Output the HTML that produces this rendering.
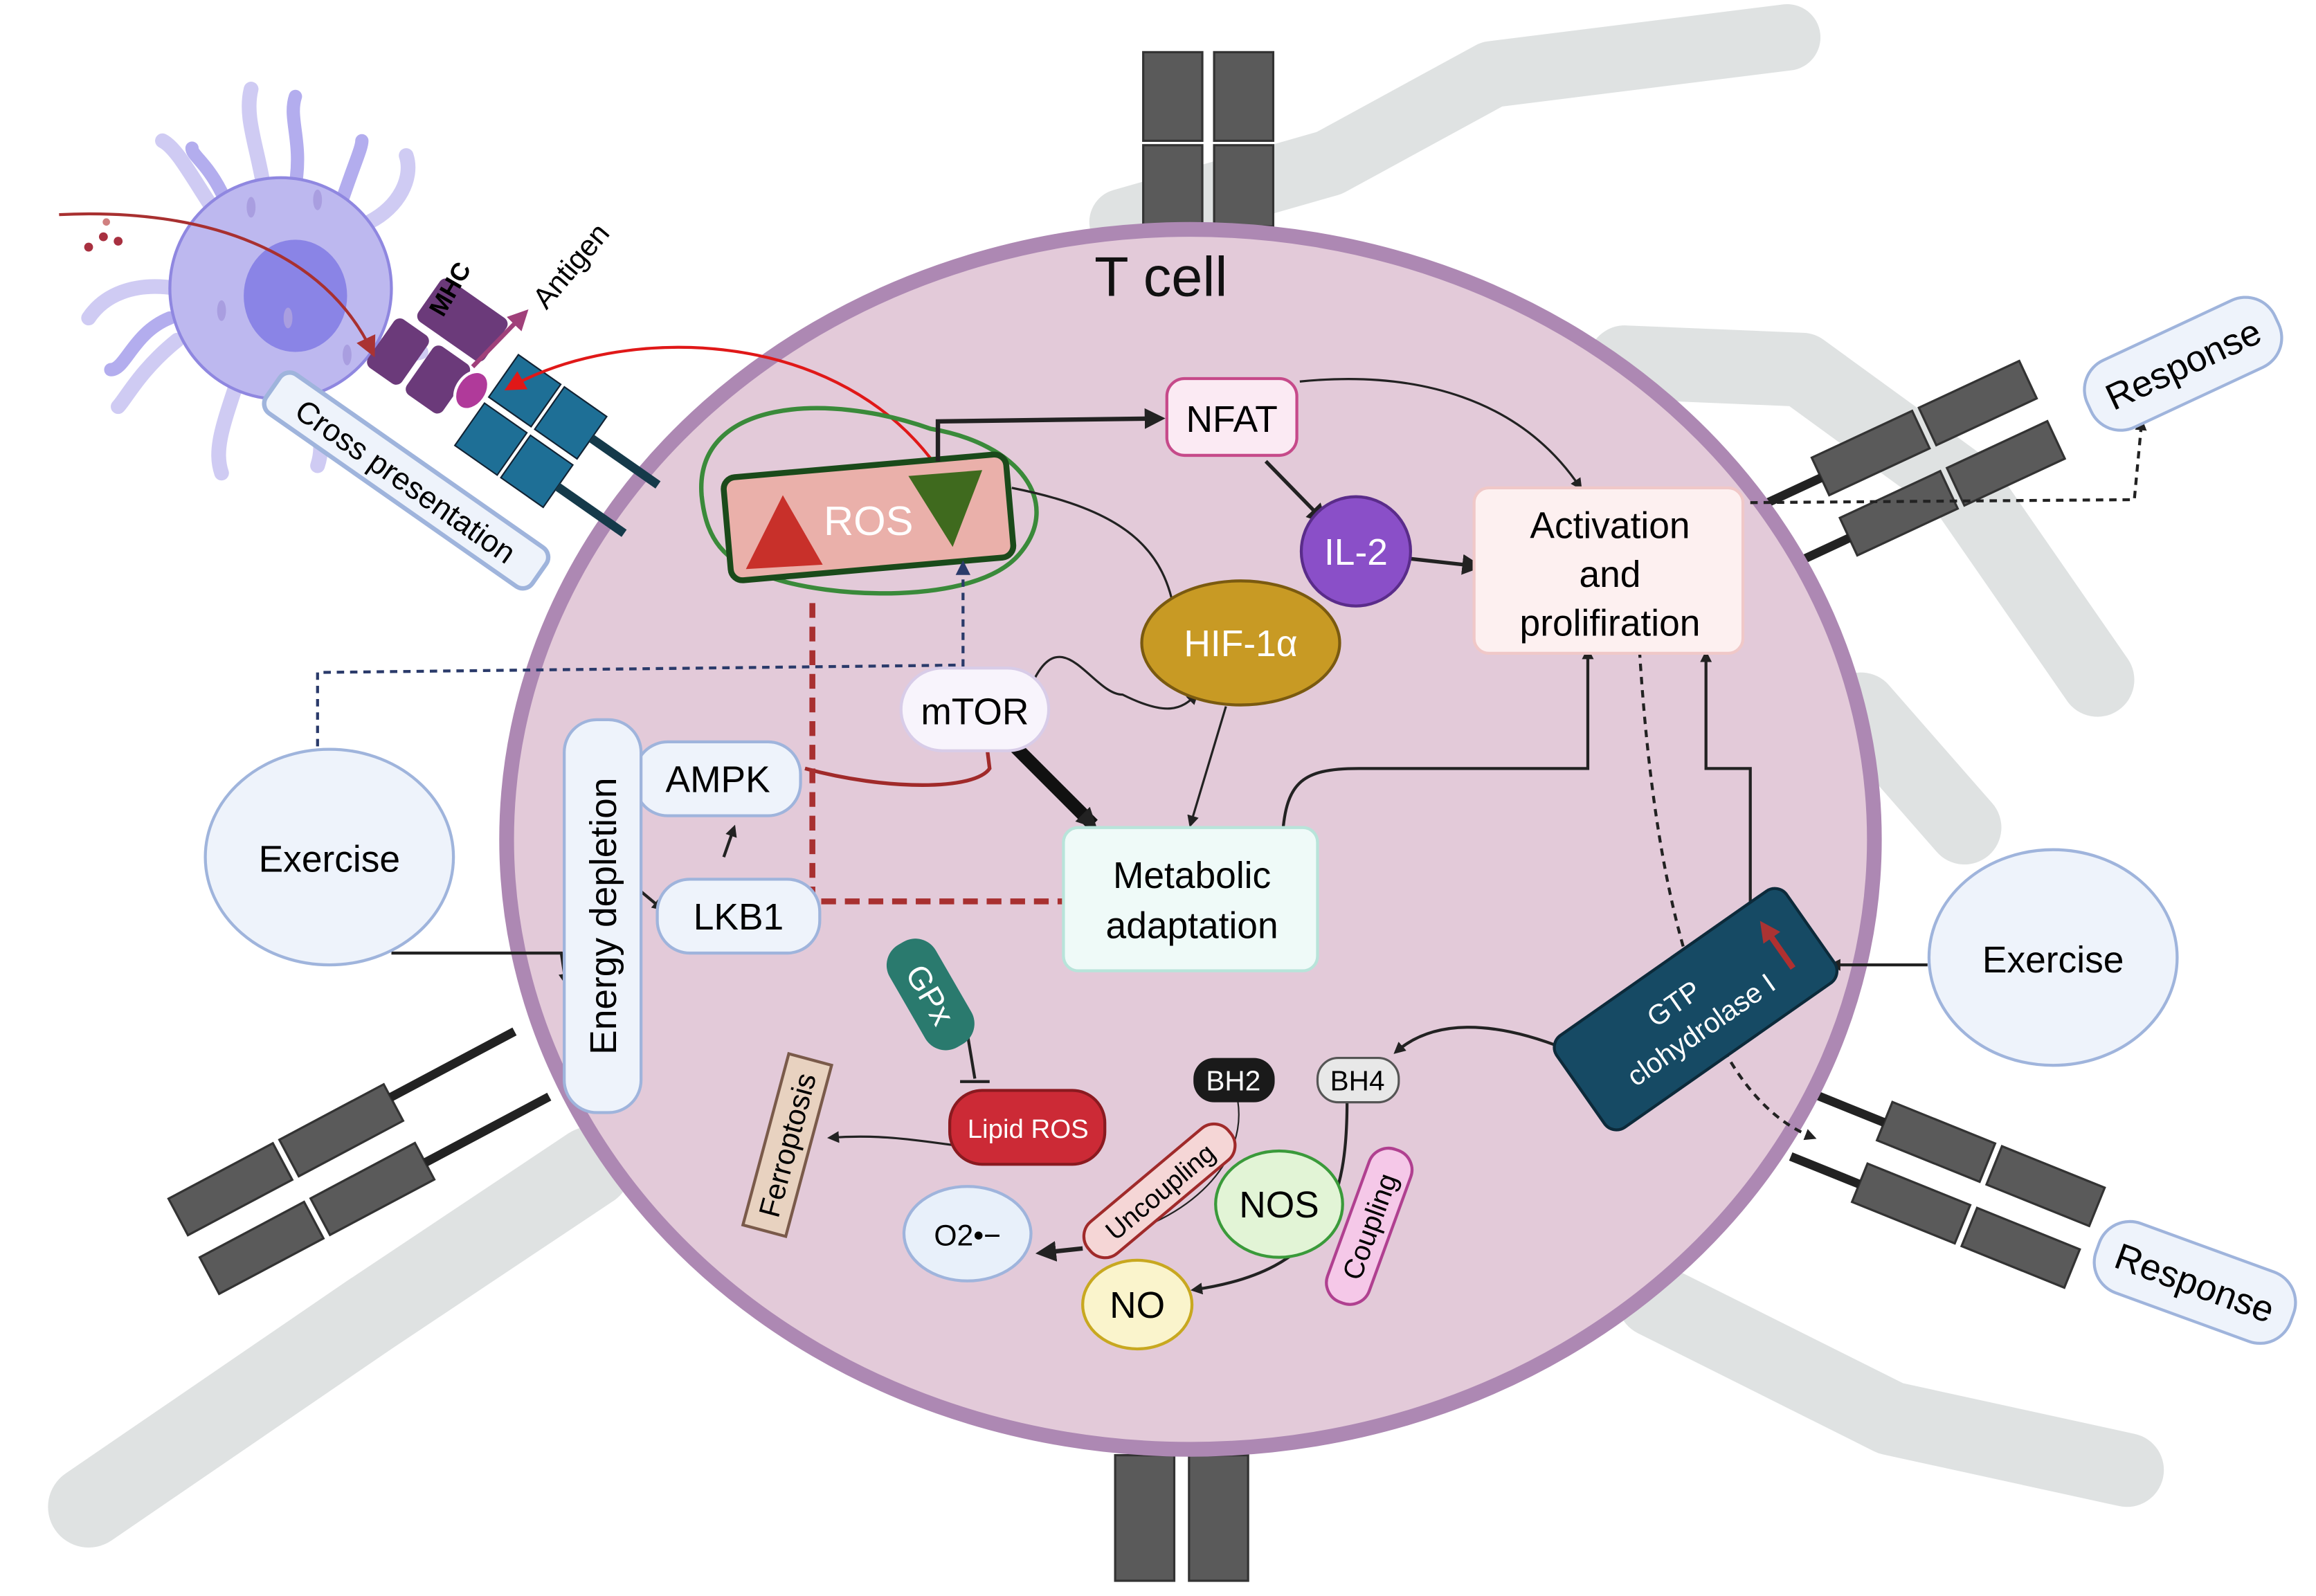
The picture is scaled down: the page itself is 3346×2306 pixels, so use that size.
<!DOCTYPE html>
<html><head><meta charset="utf-8"><style>
html,body{margin:0;padding:0;background:#fff}
svg{display:block}
text{font-family:"Liberation Sans",sans-serif}
</style></head><body>
<svg width="3346" height="2306" viewBox="0 0 1568 1080" xmlns="http://www.w3.org/2000/svg">
<defs>
<marker id="a" markerWidth="8" markerHeight="8" refX="6" refY="4" orient="auto" markerUnits="userSpaceOnUse"><path d="M0,0 L8,4 L0,8 z" fill="#222"/></marker>
<marker id="ab" markerWidth="14" markerHeight="14" refX="10" refY="7" orient="auto" markerUnits="userSpaceOnUse"><path d="M0,0 L14,7 L0,14 z" fill="#222"/></marker>
<marker id="ar" markerWidth="14" markerHeight="14" refX="10" refY="7" orient="auto" markerUnits="userSpaceOnUse"><path d="M0,0 L14,7 L0,14 z" fill="#e01818"/></marker>
<marker id="ad" markerWidth="14" markerHeight="14" refX="10" refY="7" orient="auto" markerUnits="userSpaceOnUse"><path d="M0,0 L14,7 L0,14 z" fill="#a33"/></marker>
<marker id="ap" markerWidth="14" markerHeight="14" refX="10" refY="7" orient="auto" markerUnits="userSpaceOnUse"><path d="M0,0 L14,7 L0,14 z" fill="#a0407a"/></marker>
<marker id="an" markerWidth="10" markerHeight="10" refX="7" refY="5" orient="auto" markerUnits="userSpaceOnUse"><path d="M0,0 L10,5 L0,10 z" fill="#2a3a6a"/></marker>
</defs>
<!-- runner silhouette -->
<g fill="none" stroke="#dfe2e2" stroke-linecap="round" stroke-linejoin="round">
<path d="M760,150 L900,110 L1010,50 L1210,25" stroke-width="45"/>
<path d="M1100,245 L1220,250 L1330,330 L1420,460" stroke-width="50"/>
<path d="M1260,480 L1330,560" stroke-width="50"/>
<path d="M400,790 L250,890 L60,1020" stroke-width="55"/>
<path d="M1120,880 L1280,960 L1440,995" stroke-width="50"/>
</g>
<!-- receptors -->
<g fill="#5a5a5a" stroke="#333" stroke-width="1.5">
<rect x="774" y="35" width="40" height="60"/><rect x="774" y="98" width="40" height="55"/>
<rect x="822" y="35" width="40" height="60"/><rect x="822" y="98" width="40" height="55"/>
<rect x="755" y="985" width="40" height="85"/><rect x="805" y="985" width="40" height="85"/>
<g transform="translate(250,790) rotate(-28)">
<rect x="-130" y="-45" width="80" height="28"/><rect x="-45" y="-45" width="80" height="28"/>
<rect x="-130" y="0" width="80" height="28"/><rect x="-45" y="0" width="80" height="28"/>
<path d="M35,-35 L130,-35 M35,15 L130,15" stroke="#222" stroke-width="6"/></g>
<g transform="translate(1300,325) rotate(-25)">
<rect x="-60" y="-45" width="75" height="28"/><rect x="20" y="-45" width="75" height="28"/>
<rect x="-60" y="0" width="75" height="28"/><rect x="20" y="0" width="75" height="28"/>
<path d="M-60,-30 L-120,-30 M-60,15 L-120,15" stroke="#222" stroke-width="6"/></g>
<g transform="translate(1320,810) rotate(22)">
<rect x="-60" y="-45" width="75" height="28"/><rect x="20" y="-45" width="75" height="28"/>
<rect x="-60" y="0" width="75" height="28"/><rect x="20" y="0" width="75" height="28"/>
<path d="M-60,-30 L-110,-30 M-60,15 L-110,15" stroke="#222" stroke-width="6"/></g>
</g>
<!-- T cell -->
<ellipse cx="806" cy="568" rx="463" ry="413" fill="#e3cad9" stroke="#ad88b3" stroke-width="10"/>
<text x="786" y="200" font-size="38" text-anchor="middle" fill="#111">T cell</text>
<!-- dendritic cell -->
<g fill="none" stroke-linecap="round">
<g stroke="#cfcbf3" stroke-width="10">
<path d="M180,135 C175,100 165,80 170,60"/><path d="M150,150 C130,120 120,100 110,95"/>
<path d="M120,195 C90,190 70,200 60,215"/><path d="M120,230 C95,250 85,270 80,275"/>
<path d="M160,260 C150,290 145,305 150,320"/><path d="M210,265 C215,290 220,300 215,315"/>
<path d="M250,230 C270,240 280,240 285,238"/><path d="M250,150 C270,140 280,120 275,105"/>
</g>
<g stroke="#b3adee" stroke-width="9">
<path d="M200,125 C205,95 195,80 200,65"/><path d="M230,140 C240,110 245,100 245,95"/>
<path d="M115,215 C90,225 85,250 75,250"/><path d="M150,130 C140,110 130,105 130,100"/>
</g>
</g>
<circle cx="190" cy="195" r="75" fill="#bdb8ef" stroke="#8f87e0" stroke-width="2"/>
<ellipse cx="200" cy="200" rx="35" ry="38" fill="#8a84e6"/>
<g fill="#a99ee0"><ellipse cx="170" cy="140" rx="3" ry="7"/><ellipse cx="215" cy="135" rx="3" ry="7"/><ellipse cx="150" cy="210" rx="3" ry="7"/><ellipse cx="235" cy="240" rx="3" ry="7"/><ellipse cx="195" cy="215" rx="3" ry="7"/></g>
<g fill="#a83040"><circle cx="70" cy="160" r="3"/><circle cx="60" cy="167" r="3"/><circle cx="80" cy="163" r="3"/><circle cx="72" cy="150" r="2.5" fill="#d08080"/></g>
<!-- MHC/TCR -->
<g transform="translate(310,260) rotate(35)">
<rect x="-50" y="-55" width="55" height="35" rx="5" fill="#6b3a7a"/>
<rect x="-60" y="-15" width="28" height="40" rx="5" fill="#6b3a7a"/>
<rect x="-28" y="-15" width="30" height="40" rx="5" fill="#6b3a7a"/>
<ellipse cx="10" cy="-2" rx="10" ry="14" fill="#b03a9a" stroke="#fff" stroke-width="2"/>
<rect x="22" y="-40" width="35" height="35" fill="#1e6f96" stroke="#123" stroke-width="1"/>
<rect x="22" y="0" width="35" height="35" fill="#1e6f96" stroke="#123" stroke-width="1"/>
<rect x="60" y="-40" width="35" height="35" fill="#1e6f96" stroke="#123" stroke-width="1"/>
<rect x="60" y="0" width="35" height="35" fill="#1e6f96" stroke="#123" stroke-width="1"/>
<path d="M95,-22 L150,-22 M95,18 L150,18" stroke="#153a4a" stroke-width="6"/>
</g>
<text transform="translate(300,215) rotate(-60)" font-size="17" font-weight="bold">MHC</text>
<text transform="translate(370,210) rotate(-50)" font-size="20">Antigen</text>
<path d="M320,248 L355,212" stroke="#a0407a" stroke-width="3" marker-end="url(#ap)"/>
<path d="M40,145 C140,140 220,170 252,238" fill="none" stroke="#a83030" stroke-width="2" marker-end="url(#ad)"/>
<path d="M630,310 C560,220 420,220 345,262" fill="none" stroke="#e01818" stroke-width="2" marker-end="url(#ar)"/>
<g transform="translate(275,325) rotate(35)"><rect x="-110" y="-16" width="220" height="32" rx="8" fill="#eef3fb" stroke="#9fb4dc" stroke-width="3"/>
<text x="0" y="8" font-size="21" text-anchor="middle">Cross presentation</text></g>
<!-- ROS mitochondria -->
<path d="M475,335 C470,270 560,265 630,290 C690,300 720,340 690,375 C660,410 560,405 520,390 C490,380 478,365 475,335 Z" fill="none" stroke="#3a8a3a" stroke-width="3"/>
<rect x="492" y="315" width="192" height="70" rx="8" fill="#eab0aa" stroke="#1a4a1a" stroke-width="4" transform="rotate(-5 588 350)"/>
<path d="M505,385 L530,335 L557,382 Z" fill="#c8302a"/>
<path d="M615,322 L665,318 L645,370 Z" fill="#3f6a1e"/>
<text x="588" y="362" font-size="28" text-anchor="middle" fill="#fff">ROS</text>
<!-- connectors -->
<path d="M635,312 L635,285 L785,283" fill="none" stroke="#222" stroke-width="3" marker-end="url(#ab)"/>
<path d="M685,330 C760,345 790,370 796,420" fill="none" stroke="#222" stroke-width="1.5" marker-end="url(#a)"/>
<path d="M880,258 C960,250 1030,270 1070,330" fill="none" stroke="#222" stroke-width="1.5" marker-end="url(#a)"/>
<path d="M857,312 L896,352" stroke="#222" stroke-width="2.5" marker-end="url(#ab)"/>
<path d="M955,378 L1000,383" stroke="#222" stroke-width="2.5" marker-end="url(#ab)"/>
<path d="M700,460 C720,420 740,470 760,470 C790,485 800,480 810,470" fill="none" stroke="#222" stroke-width="1.5" marker-end="url(#a)"/>
<path d="M830,478 L806,558" stroke="#222" stroke-width="1.5" marker-end="url(#a)"/>
<path d="M680,498 L740,558" stroke="#111" stroke-width="9" marker-end="url(#ab)"/>
<path d="M545,520 C600,535 660,535 670,520 L667,496" fill="none" stroke="#a02a2a" stroke-width="2.5"/>
<path d="M660,496 L675,496" stroke="#a02a2a" stroke-width="3"/>
<path d="M490,580 L497,560" stroke="#222" stroke-width="2" marker-end="url(#a)"/>
<path d="M868,570 C870,530 880,520 920,520 L1075,520 L1075,440" fill="none" stroke="#222" stroke-width="2" marker-end="url(#a)"/>
<path d="M1185,612 L1185,520 L1155,520 L1155,442" fill="none" stroke="#222" stroke-width="2" marker-end="url(#a)"/>
<path d="M1305,653 L1240,653" stroke="#222" stroke-width="2" marker-end="url(#a)"/>
<path d="M1060,710 C1010,690 970,690 945,712" fill="none" stroke="#222" stroke-width="2" marker-end="url(#a)"/>
<path d="M550,408 L550,610 L725,610" fill="none" stroke="#a83030" stroke-width="4" stroke-dasharray="10,6"/>
<path d="M730,600 L730,622" stroke="#a02a2a" stroke-width="3"/>
<path d="M215,505 L215,455 L652,450 L652,382" fill="none" stroke="#2a3a6a" stroke-width="2" stroke-dasharray="5,4" marker-end="url(#an)"/>
<path d="M265,645 L380,645 L383,665" fill="none" stroke="#222" stroke-width="2" marker-end="url(#a)"/>
<path d="M418,590 L448,615" stroke="#222" stroke-width="2" marker-end="url(#a)"/>
<path d="M1185,340 L1445,338 L1450,285" fill="none" stroke="#222" stroke-width="2" stroke-dasharray="5,4" marker-end="url(#a)"/>
<path d="M1110,440 C1120,600 1150,740 1228,770" fill="none" stroke="#222" stroke-width="2" stroke-dasharray="5,4" marker-end="url(#a)"/>
<path d="M655,700 L660,730" stroke="#222" stroke-width="2"/><path d="M650,732 L670,732" stroke="#222" stroke-width="2"/>
<path d="M645,775 C610,770 590,768 562,770" fill="none" stroke="#222" stroke-width="1.5" marker-end="url(#a)"/>
<path d="M733,845 L705,848" stroke="#222" stroke-width="3" marker-end="url(#ab)"/>
<path d="M838,745 C845,790 800,830 740,840" fill="none" stroke="#222" stroke-width="1"/>
<path d="M912,745 C912,810 900,860 808,873" fill="none" stroke="#222" stroke-width="2" marker-end="url(#a)"/>
<!-- nodes -->
<rect x="790" y="256" width="88" height="52" rx="12" fill="#fbeaf3" stroke="#c64a8a" stroke-width="2"/>
<text x="834" y="292" font-size="25" text-anchor="middle">NFAT</text>
<circle cx="918" cy="373" r="37" fill="#8a4fc8" stroke="#5a2c8a" stroke-width="2"/>
<text x="918" y="382" font-size="25" text-anchor="middle" fill="#fff">IL-2</text>
<rect x="998" y="330" width="182" height="112" rx="10" fill="#fdf0f0" stroke="#f0c8c8" stroke-width="2"/>
<text x="1090" y="364" font-size="25" text-anchor="middle">Activation</text>
<text x="1090" y="397" font-size="25" text-anchor="middle">and</text>
<text x="1090" y="430" font-size="25" text-anchor="middle">prolifiration</text>
<ellipse cx="840" cy="435" rx="67" ry="42" fill="#c89a24" stroke="#7a5a10" stroke-width="2"/>
<text x="840" y="444" font-size="25" text-anchor="middle" fill="#fff">HIF-1α</text>
<rect x="610" y="452" width="100" height="56" rx="28" fill="#f8f4fc" stroke="#d8cce8" stroke-width="2"/>
<text x="660" y="490" font-size="25" text-anchor="middle">mTOR</text>
<rect x="430" y="502" width="112" height="50" rx="22" fill="#eef3fb" stroke="#9fb4dc" stroke-width="2"/>
<text x="486" y="536" font-size="25" text-anchor="middle">AMPK</text>
<rect x="445" y="595" width="110" height="50" rx="22" fill="#eef3fb" stroke="#9fb4dc" stroke-width="2"/>
<text x="500" y="629" font-size="25" text-anchor="middle">LKB1</text>
<rect x="720" y="560" width="172" height="97" rx="10" fill="#effaf8" stroke="#b8e4da" stroke-width="2"/>
<text x="807" y="601" font-size="25" text-anchor="middle">Metabolic</text>
<text x="807" y="635" font-size="25" text-anchor="middle">adaptation</text>
<ellipse cx="223" cy="580" rx="84" ry="73" fill="#eef3fb" stroke="#9fb4dc" stroke-width="2"/>
<text x="223" y="590" font-size="25" text-anchor="middle">Exercise</text>
<ellipse cx="1390" cy="648" rx="84" ry="73" fill="#eef3fb" stroke="#9fb4dc" stroke-width="2"/>
<text x="1390" y="658" font-size="25" text-anchor="middle">Exercise</text>
<g transform="translate(408,620) rotate(-90)"><rect x="-133" y="-26" width="266" height="52" rx="22" fill="#eef3fb" stroke="#9fb4dc" stroke-width="2"/>
<text x="0" y="9" font-size="25" text-anchor="middle">Energy depletion</text></g>
<g transform="translate(1478,246) rotate(-25)"><rect x="-70" y="-25" width="140" height="50" rx="22" fill="#eef3fb" stroke="#9fb4dc" stroke-width="2"/>
<text x="0" y="9" font-size="25" text-anchor="middle">Response</text></g>
<g transform="translate(1486,868) rotate(20)"><rect x="-70" y="-25" width="140" height="50" rx="22" fill="#eef3fb" stroke="#9fb4dc" stroke-width="2"/>
<text x="0" y="9" font-size="25" text-anchor="middle">Response</text></g>
<g transform="translate(1148,683) rotate(-35)"><rect x="-95" y="-38" width="190" height="76" rx="10" fill="#164a64" stroke="#0c2a3a" stroke-width="2"/>
<text x="-10" y="-5" font-size="19" text-anchor="middle" fill="#fff">GTP</text>
<text x="-5" y="20" font-size="19" text-anchor="middle" fill="#fff">clohydrolase I</text>
<path d="M70,15 L70,-20" stroke="#b03030" stroke-width="4" marker-end="url(#ad)"/></g>
<g transform="translate(630,673) rotate(60)"><rect x="-40" y="-18" width="80" height="36" rx="16" fill="#2a7a6e"/>
<text x="0" y="8" font-size="22" text-anchor="middle" fill="#fff">GPx</text></g>
<rect x="643" y="738" width="105" height="50" rx="22" fill="#cc2a36" stroke="#8a1a20" stroke-width="2"/>
<text x="696" y="770" font-size="18" text-anchor="middle" fill="#fff">Lipid ROS</text>
<g transform="translate(533,775) rotate(-75)"><rect x="-60" y="-15" width="120" height="30" fill="#e8d2c0" stroke="#7a5a4a" stroke-width="2"/>
<text x="0" y="7" font-size="20" text-anchor="middle">Ferroptosis</text></g>
<ellipse cx="655" cy="835" rx="43" ry="32" fill="#e8f0fa" stroke="#9fb4dc" stroke-width="2"/>
<text x="655" y="843" font-size="20" text-anchor="middle">O2•−</text>
<rect x="808" y="716" width="55" height="30" rx="14" fill="#1a1a1a"/>
<text x="835" y="738" font-size="19" text-anchor="middle" fill="#fff">BH2</text>
<rect x="892" y="716" width="55" height="30" rx="14" fill="#e8e8e8" stroke="#555" stroke-width="1.5"/>
<text x="919" y="738" font-size="19" text-anchor="middle">BH4</text>
<g transform="translate(785,806) rotate(-40)"><rect x="-62" y="-14" width="124" height="28" rx="13" fill="#f5d6d6" stroke="#a02a2a" stroke-width="2"/>
<text x="0" y="7" font-size="18" text-anchor="middle">Uncoupling</text></g>
<ellipse cx="866" cy="815" rx="43" ry="36" fill="#e2f4d6" stroke="#3a9a3a" stroke-width="2"/>
<text x="866" y="824" font-size="25" text-anchor="middle">NOS</text>
<g transform="translate(927,830) rotate(-70)"><rect x="-55" y="-15" width="110" height="30" rx="14" fill="#f5c8e8" stroke="#b04090" stroke-width="2"/>
<text x="0" y="7" font-size="19" text-anchor="middle">Coupling</text></g>
<ellipse cx="770" cy="883" rx="37" ry="30" fill="#faf4cc" stroke="#c8a820" stroke-width="2"/>
<text x="770" y="892" font-size="25" text-anchor="middle">NO</text>
</svg>
</body></html>
